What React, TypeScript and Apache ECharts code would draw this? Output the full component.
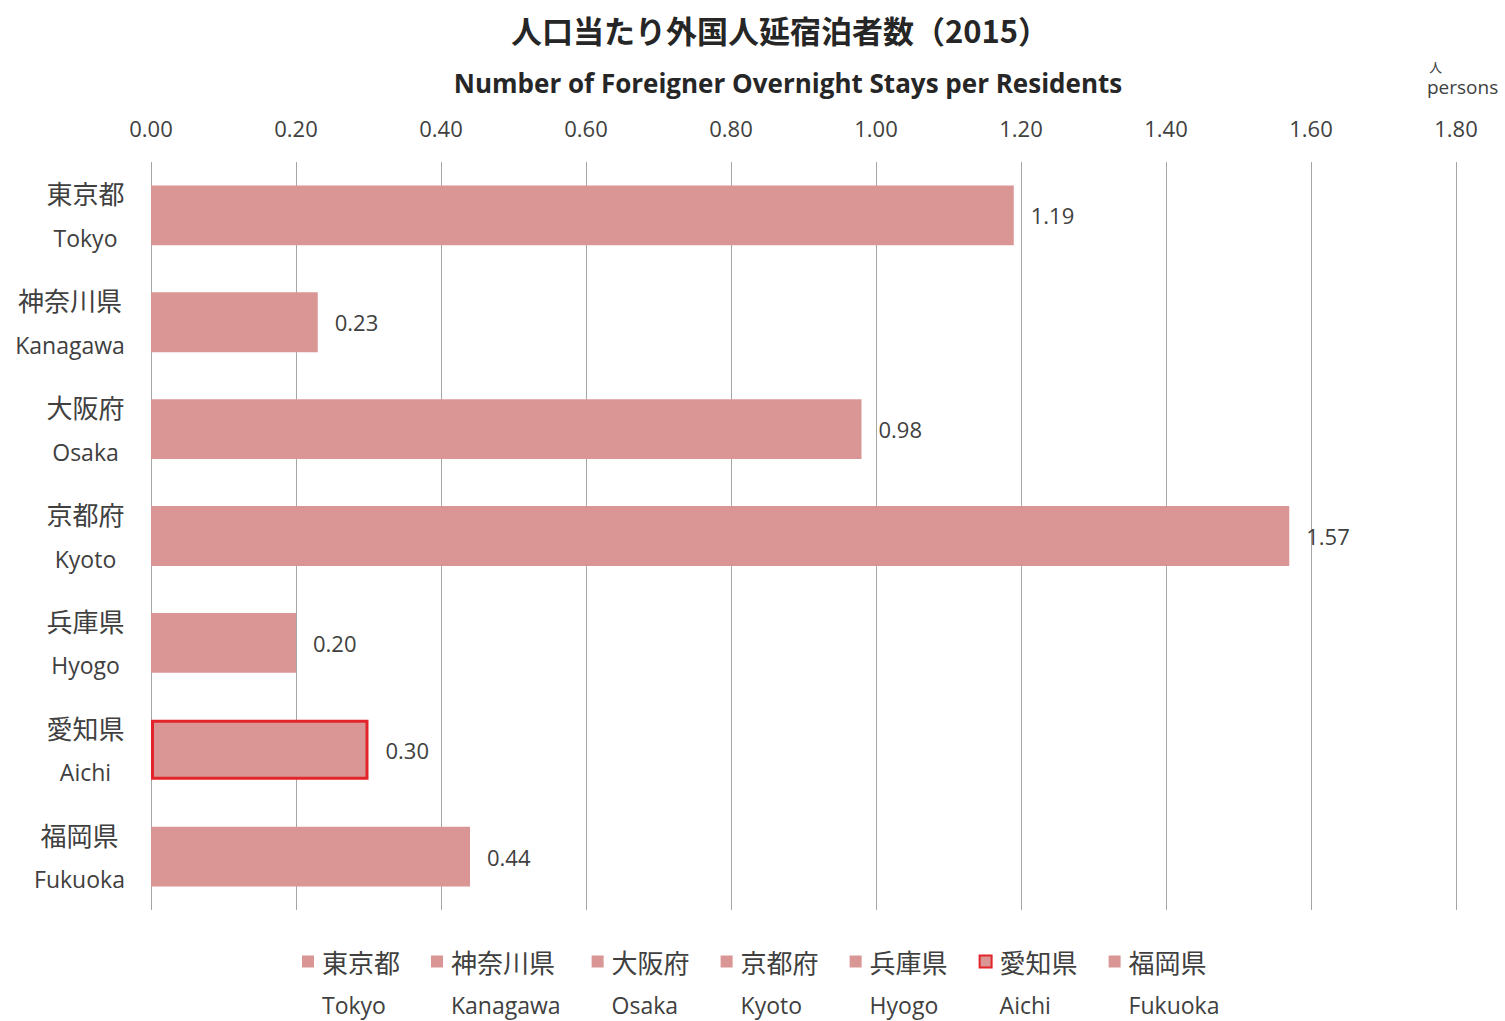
import React, { useEffect, useRef } from "react";
import * as echarts from "echarts";

const prefJP = ["東京都", "神奈川県", "大阪府", "京都府", "兵庫県", "愛知県", "福岡県"];
const prefEN = ["Tokyo", "Kanagawa", "Osaka", "Kyoto", "Hyogo", "Aichi", "Fukuoka"];
const staysPerResident = [1.19, 0.23, 0.98, 1.57, 0.2, 0.3, 0.44];
const highlightIndex = 5;

const titleText = "人口当たり外国人延宿泊者数（2015）";
const subtitleText = "Number of Foreigner Overnight Stays per Residents";
const unitText = "persons";

const JP_FONT = '"Noto Sans CJK JP", sans-serif';
const EN_FONT = '"Open Sans", sans-serif';
const JP_SIZE = 26;
const EN_SIZE = 23;
const TEXT_COLOR = "#404040";
const BAR_COLOR = "#D99694";

function measure(text: string, font: string): number {
  const c = document.createElement("canvas");
  const ctx = c.getContext("2d");
  if (!ctx) return text.length * 20;
  ctx.font = font;
  return ctx.measureText(text).width;
}

export default function App() {
  const ref = useRef<HTMLDivElement>(null);
  useEffect(() => {
    if (!ref.current) return;
    const chart = echarts.init(ref.current, undefined, { renderer: "svg" });

    const rich: Record<string, any> = {};
    prefJP.forEach((jp, i) => {
      const w = Math.ceil(
        Math.max(
          measure(jp, `${JP_SIZE}px ${JP_FONT}`),
          measure(prefEN[i], `${EN_SIZE}px ${EN_FONT}`)
        )
      );
      rich["j" + i] = {
        width: w,
        align: "center",
        fontFamily: JP_FONT,
        fontSize: JP_SIZE,
        color: TEXT_COLOR,
        lineHeight: 45,
      };
      rich["e" + i] = {
        width: w,
        align: "center",
        fontFamily: EN_FONT,
        fontSize: EN_SIZE,
        color: TEXT_COLOR,
        lineHeight: 45,
      };
    });
    const legendRich = {
      j: { fontFamily: JP_FONT, fontSize: JP_SIZE, color: TEXT_COLOR, lineHeight: 43 },
      e: { fontFamily: EN_FONT, fontSize: EN_SIZE, color: TEXT_COLOR, lineHeight: 43 },
    };

    const series = prefJP.map((name, i) => ({
      name,
      type: "bar",
      stack: "all",
      barWidth: "56%",
      data: staysPerResident.map((v, j) => (j === i ? v : "-")),
      itemStyle:
        i === highlightIndex
          ? { color: BAR_COLOR, borderColor: "#E3242B", borderWidth: 3 }
          : { color: BAR_COLOR },
      label: {
        show: true,
        position: "right",
        distance: 17,
        formatter: (p: any) => Number(p.value).toFixed(2),
        fontFamily: EN_FONT,
        fontSize: 22,
        color: TEXT_COLOR,
      },
    }));

    chart.setOption({
      animation: false,
      backgroundColor: "#ffffff",
      title: [
        {
          text: titleText,
          left: 775,
          top: 9,
          textAlign: "center",
          textStyle: {
            fontFamily: JP_FONT,
            fontSize: 31,
            fontWeight: "bold",
            color: "#262626",
          },
        },
        {
          text: subtitleText,
          left: 783,
          top: 65,
          textAlign: "center",
          textStyle: {
            fontFamily: EN_FONT,
            fontSize: 26,
            fontWeight: "bold",
            color: "#262626",
          },
        },
      ],
      grid: { left: 151, right: 49, top: 162, bottom: 111, containLabel: false },
      xAxis: {
        type: "value",
        position: "top",
        min: 0,
        max: 1.8,
        interval: 0.2,
        axisLine: { show: false },
        axisTick: { show: false },
        axisLabel: {
          formatter: (v: number) => v.toFixed(2),
          fontFamily: EN_FONT,
          fontSize: 22,
          color: TEXT_COLOR,
          margin: 23,
        },
        splitLine: { show: true, lineStyle: { color: "#a6a6a6", width: 1 } },
      },
      yAxis: {
        type: "category",
        inverse: true,
        data: prefJP,
        axisLine: { show: false },
        axisTick: { show: false },
        axisLabel: {
          margin: 26,
          formatter: (v: string) => {
            const i = prefJP.indexOf(v);
            return `{j${i}|${prefJP[i]}}\n{e${i}|${prefEN[i]}}`;
          },
          rich,
        },
      },
      legend: {
        top: 892,
        left: 297,
        itemWidth: 12,
        itemHeight: 12,
        itemGap: 31,
        icon: "rect",
        data: prefJP,
        formatter: (name: string) => {
          const i = prefJP.indexOf(name);
          return `\n{j|${prefJP[i]}}\n{e|${prefEN[i]}}`;
        },
        textStyle: {
          lineHeight: 43,
          fontSize: JP_SIZE,
          fontFamily: JP_FONT,
          color: TEXT_COLOR,
          padding: [0, 0, 0, 3],
          rich: legendRich,
        },
      },
      graphic: [
        {
          type: "text",
          left: 1427,
          top: 77,
          style: {
            text: unitText,
            fontFamily: EN_FONT,
            fontSize: 19,
            fill: TEXT_COLOR,
          },
        },
        {
          type: "text",
          left: 1429,
          top: 60,
          style: {
            text: "人",
            fontFamily: JP_FONT,
            fontSize: 13,
            fill: TEXT_COLOR,
          },
        },
      ],
      series,
    });
    return () => chart.dispose();
  }, []);
  return (
    <div
      ref={ref}
      style={{ position: "fixed", left: 0, top: 0, width: 1505, height: 1021 }}
    />
  );
}
